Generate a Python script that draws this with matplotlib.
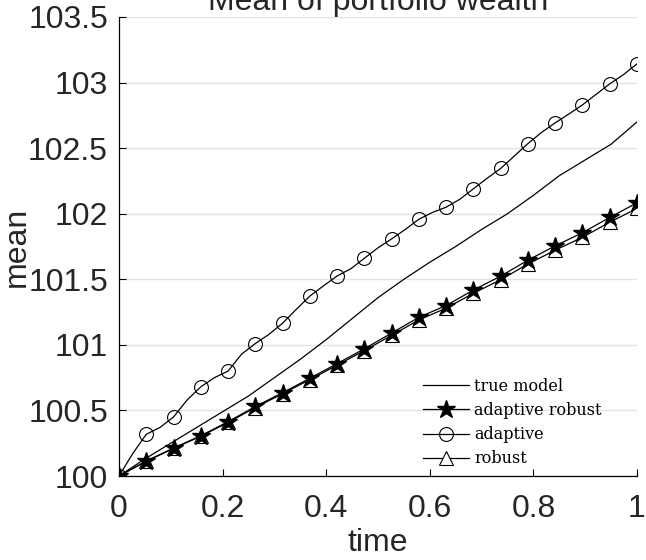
import numpy as np
import matplotlib.pyplot as plt

# marker times k/19, adaptive line also has read midpoints (k/38)
t_mark = np.arange(20) / 19
t_half = np.arange(39) / 38

adaptive = [100.00, 100.17, 100.318, 100.37, 100.45, 100.58, 100.68, 100.75, 100.80, 100.93,
            101.01, 101.08, 101.165, 101.27, 101.372, 101.45, 101.525, 101.58, 101.66, 101.74,
            101.808, 101.88, 101.958, 102.01, 102.05, 102.11, 102.19, 102.27, 102.345, 102.44,
            102.535, 102.62, 102.693, 102.76, 102.83, 102.91, 102.99, 103.06, 103.143]

adaptive_robust = [100.00, 100.114, 100.213, 100.307, 100.414, 100.53, 100.635, 100.745, 100.857, 100.97,
                   101.09, 101.21, 101.30, 101.418, 101.524, 101.646, 101.755, 101.855, 101.972, 102.083]

robust = [100.00, 100.112, 100.21, 100.303, 100.408, 100.522, 100.627, 100.735, 100.845, 100.956,
          101.073, 101.19, 101.28, 101.393, 101.497, 101.616, 101.722, 101.82, 101.935, 102.04]

t_true = np.arange(21) / 20
true_model = [100.00, 100.13, 100.25, 100.37, 100.49, 100.61, 100.75, 100.89, 101.04, 101.20,
              101.36, 101.50, 101.63, 101.75, 101.88, 102.00, 102.14, 102.29, 102.41, 102.53, 102.70]

plt.rcParams['font.family'] = ['Liberation Sans', 'DejaVu Sans']
txt = '#262626'

fig = plt.figure(figsize=(6.46, 5.6), dpi=100)
ax = fig.add_axes([119/646, 84/560, 518/646, 459/560])

lw = 0.9
l1, = ax.plot(t_true, true_model, color='black', lw=lw)
l4, = ax.plot(t_mark, robust, color='black', lw=lw, marker='^', ms=9.5,
              mfc='white', mec='black', mew=0.8)
l2, = ax.plot(t_mark, adaptive_robust, color='black', lw=lw, marker='*', ms=13.5,
              mfc='black', mec='black')
l3, = ax.plot(t_half, adaptive, color='black', lw=lw, marker='o', ms=10,
              markevery=2, mfc='none', mec='black', mew=0.8)

ax.set_xlim(0, 1)
ax.set_ylim(100, 103.5)
ax.set_xticks([0, 0.2, 0.4, 0.6, 0.8, 1])
ax.set_xticklabels(['0', '0.2', '0.4', '0.6', '0.8', '1'])
ax.set_yticks([100, 100.5, 101, 101.5, 102, 102.5, 103, 103.5])
ax.set_yticklabels(['100', '100.5', '101', '101.5', '102', '102.5', '103', '103.5'])
ax.yaxis.grid(True, color='#e3e3e3', lw=1)
ax.set_axisbelow(True)
for s in ['top', 'right']:
    ax.spines[s].set_visible(False)
for s in ['left', 'bottom']:
    ax.spines[s].set_linewidth(0.9)
ax.tick_params(direction='in', length=5, width=0.8, labelsize=23, colors='black', labelcolor=txt)
ax.tick_params(axis='x', pad=13)
ax.tick_params(axis='y', pad=8)

ax.set_xlabel('time', fontsize=23, labelpad=3, color=txt)
ax.set_ylabel('mean', fontsize=23, color=txt)
ax.yaxis.set_label_coords(-0.168, 0.5)
ax.set_title('Mean of portfolio wealth', fontsize=23, pad=4, color=txt)

ax.legend([l1, l2, l3, l4], ['true model', 'adaptive robust', 'adaptive', 'robust'],
          loc='upper left', bbox_to_anchor=(0.587, 0.214), frameon=False,
          prop={'family': 'DejaVu Serif', 'size': 11.5}, handlelength=2.9,
          handletextpad=0.3, labelspacing=0.45, borderaxespad=0, borderpad=0)

fig.savefig('out.png', dpi=100)
